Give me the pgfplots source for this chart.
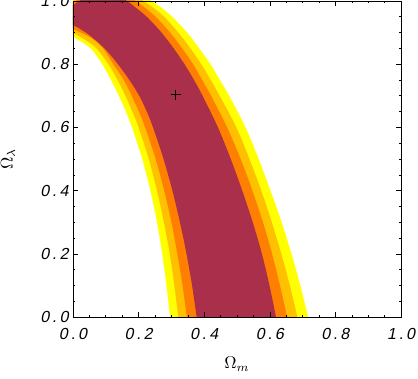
\documentclass[border=0pt]{standalone}
\usepackage{fontspec}
\setmainfont{Liberation Sans}
\newfontfamily\tickfont[LetterSpace=18, FakeSlant=0.2]{Liberation Sans}
\usepackage{pgfplots}
\pgfplotsset{compat=1.18}
\usetikzlibrary{calc}
\definecolor{cyellow}{HTML}{FFFF00}
\definecolor{clorange}{HTML}{FFC000}
\definecolor{corange}{HTML}{FF8000}
\definecolor{cmaroon}{HTML}{AA2F4A}
\newcommand{\tl}[1]{\mbox{\tickfont\fontsize{16}{18}\selectfont #1}}

\begin{document}
\begin{tikzpicture}
\begin{axis}[
    name=ax,
    scale only axis,
    width=328pt,
    height=316pt,
    xmin=0, xmax=1, ymin=0, ymax=1,
    xtick={0,0.2,0.4,0.6,0.8,1},
    ytick={0,0.2,0.4,0.6,0.8,1},
    xticklabels={\tl{0.0},\tl{0.2},\tl{0.4},\tl{0.6},\tl{0.8},\tl{1.0}},
    yticklabels={\tl{0.0},\tl{0.2},\tl{0.4},\tl{0.6},\tl{0.8},\tl{1.0}},
    minor tick num=3,
    xtick pos=both, ytick pos=both,
    tick align=inside,
    major tick length=5pt,
    minor tick length=2.5pt,
    tick style={black, line width=0.6pt},
    axis line style={black, line width=0.8pt},
    axis on top,
    xticklabel style={yshift=-8pt},
    yticklabel style={xshift=-1pt},
    every axis x label/.style={at={(rel axis cs:0.5,0)}, yshift=-47pt, anchor=center},
    every axis y label/.style={at={(rel axis cs:0,0.5)}, xshift=-65pt, rotate=90, anchor=center},
    xlabel={\scalebox{1.7}{$\Omega_m$}},
    ylabel={\scalebox{1.7}{$\Omega_\lambda$}},
]
% 4th contour (outermost)
\addplot[fill=cyellow, draw=none, smooth] coordinates {
    (-0.05,0.915) (0,0.887) (0.054,0.85) (0.089,0.8) (0.116,0.75) (0.140,0.7) (0.161,0.65) (0.180,0.6)
    (0.211,0.5) (0.236,0.4) (0.256,0.3) (0.272,0.2) (0.285,0.1) (0.296,0) (0.308,-0.1)
    (0.742,-0.1) (0.717,0) (0.693,0.1) (0.666,0.2) (0.636,0.3) (0.602,0.4)
    (0.566,0.5) (0.526,0.6) (0.476,0.7) (0.448,0.75) (0.419,0.8) (0.385,0.85) (0.348,0.9) (0.303,0.95)
    (0.268,0.98) (0.24,1.0) (0.17,1.045) (0.1,1.06) (0.04,1.04) (0,1.005) (-0.05,0.975)
};
% 3rd contour
\addplot[fill=clorange, draw=none, smooth] coordinates {
    (-0.05,0.925) (0,0.899) (0.04,0.875) (0.072,0.85) (0.108,0.8) (0.136,0.75) (0.160,0.7) (0.181,0.65) (0.200,0.6)
    (0.231,0.5) (0.256,0.4) (0.277,0.3) (0.295,0.2) (0.309,0.1) (0.321,0) (0.334,-0.1)
    (0.708,-0.1) (0.684,0) (0.661,0.1) (0.635,0.2) (0.606,0.3) (0.574,0.4)
    (0.538,0.5) (0.498,0.6) (0.447,0.7) (0.420,0.75) (0.391,0.8) (0.358,0.85) (0.321,0.9) (0.278,0.95)
    (0.243,0.98) (0.215,1.0) (0.16,1.035) (0.1,1.048) (0.04,1.03) (0,1.0) (-0.05,0.97)
};
% 2nd contour
\addplot[fill=corange, draw=none, smooth] coordinates {
    (-0.05,0.935) (0,0.911) (0.03,0.897) (0.06,0.88) (0.092,0.85) (0.123,0.8) (0.155,0.75) (0.179,0.7) (0.201,0.65) (0.220,0.6)
    (0.252,0.5) (0.278,0.4) (0.300,0.3) (0.318,0.2) (0.334,0.1) (0.347,0) (0.361,-0.1)
    (0.676,-0.1) (0.653,0) (0.631,0.1) (0.607,0.2) (0.579,0.3) (0.547,0.4)
    (0.511,0.5) (0.470,0.6) (0.421,0.7) (0.394,0.75) (0.366,0.8) (0.333,0.85) (0.296,0.9) (0.252,0.95)
    (0.218,0.98) (0.19,1.0) (0.14,1.03) (0.09,1.038) (0.04,1.022) (0,0.993) (-0.05,0.96)
};
% 1st contour (best)
\addplot[fill=cmaroon, draw=none, smooth] coordinates {
    (-0.05,0.945) (0,0.924) (0.046,0.895) (0.096,0.85) (0.137,0.8) (0.172,0.75) (0.202,0.7) (0.225,0.65)
    (0.244,0.6) (0.276,0.5) (0.303,0.4) (0.326,0.3) (0.346,0.2) (0.363,0.1) (0.377,0) (0.392,-0.1)
    (0.640,-0.1) (0.619,0) (0.599,0.1) (0.576,0.2) (0.548,0.3) (0.516,0.4)
    (0.481,0.5) (0.442,0.6) (0.395,0.7) (0.369,0.75) (0.340,0.8) (0.307,0.85) (0.270,0.9) (0.225,0.95)
    (0.19,0.98) (0.165,1.0) (0.13,1.017) (0.085,1.025) (0.04,1.012) (0,0.987) (-0.05,0.95)
};
% best fit
\addplot[only marks, mark=+, mark size=5pt, black, mark options={line width=0.6pt}] coordinates {(0.313,0.704)};
\end{axis}
\pgfresetboundingbox
\path[use as bounding box] ($(ax.south west)+(-73pt,-61pt)$) rectangle ($(ax.north east)+(17pt,1pt)$);
\end{tikzpicture}
\end{document}
